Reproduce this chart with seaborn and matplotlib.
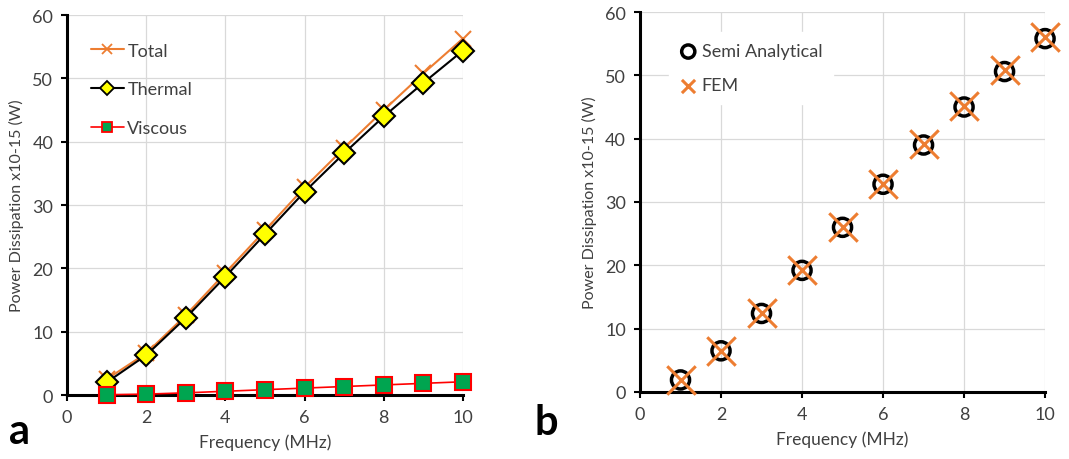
import numpy as np
import pandas as pd
import seaborn as sns
import matplotlib.pyplot as plt

# frequency (MHz)
freq = [1, 2, 3, 4, 5, 6, 7, 8, 9, 10]

# panel a: power dissipation x10^-15 (W)
total = [2.5, 6.6, 12.6, 19.3, 26.0, 32.8, 39.0, 45.0, 50.8, 56.3]
thermal = [2.0, 6.3, 12.2, 18.7, 25.4, 32.1, 38.2, 44.0, 49.3, 54.4]
viscous = [0.05, 0.15, 0.35, 0.6, 0.85, 1.1, 1.35, 1.6, 1.85, 2.1]

# panel b
semi_analytical = [1.9, 6.5, 12.4, 19.2, 26.0, 32.8, 39.0, 45.0, 50.6, 55.8]
fem = [1.9, 6.5, 12.5, 19.3, 26.1, 32.9, 39.2, 45.1, 50.8, 56.0]

sns.set_style("white")
plt.rcParams['font.family'] = ['Lato', 'DejaVu Sans']

orange = "#ED7D31"
text_col = "#404040"

fig = plt.figure(figsize=(10.69, 4.6), dpi=100)
ax1 = fig.add_axes([0.0627, 0.139, 0.3704, 0.826])
ax2 = fig.add_axes([0.5987, 0.1457, 0.3789, 0.826])

dfa = pd.DataFrame({"f": freq, "Total": total, "Thermal": thermal, "Viscous": viscous})

sns.lineplot(data=dfa, x="f", y="Total", ax=ax1, color=orange, lw=1.5,
             marker="x", markersize=12, markeredgewidth=1.5, markeredgecolor=orange,
             label="Total", zorder=3)
sns.lineplot(data=dfa, x="f", y="Thermal", ax=ax1, color="black", lw=1.5,
             marker="D", markersize=11, markerfacecolor="#FFFF00", markeredgecolor="black",
             markeredgewidth=1.5, label="Thermal", zorder=4)
sns.lineplot(data=dfa, x="f", y="Viscous", ax=ax1, color="red", lw=1.2,
             marker="s", markersize=12, markerfacecolor="#00A550", markeredgecolor="red",
             markeredgewidth=1.5, label="Viscous", zorder=5)

dfb = pd.DataFrame({"f": freq, "Semi Analytical": semi_analytical, "FEM": fem})
sns.scatterplot(data=dfb, x="f", y="Semi Analytical", ax=ax2, marker="o", s=170,
                facecolor="none", edgecolor="black", linewidth=2.5,
                label="Semi Analytical", zorder=3)
sns.scatterplot(data=dfb, x="f", y="FEM", ax=ax2, marker="x", s=420,
                color=orange, linewidth=2.2, label="FEM", zorder=4)

for ax in (ax1, ax2):
    ax.set_xlim(0, 10)
    ax.set_ylim(0, 60)
    ax.set_xticks(range(0, 11, 2))
    ax.set_yticks(range(0, 61, 10))
    ax.grid(True, color="#D9D9D9", lw=0.9)
    ax.set_axisbelow(True)
    for s in ("top", "right"):
        ax.spines[s].set_visible(False)
    for s in ("left", "bottom"):
        ax.spines[s].set_color("black")
        ax.spines[s].set_linewidth(2.2)
    ax.tick_params(axis="both", direction="out", length=4, width=1.5,
                   colors="black", labelcolor=text_col, labelsize=13, pad=6,
                   left=True, bottom=True)
    ax.set_xlabel("Frequency (MHz)", fontsize=12.5, color=text_col, labelpad=6)
    ax.set_ylabel("Power Dissipation x10-15 (W)", fontsize=11.5, color=text_col, labelpad=6)
    for c in ax.collections + ax.lines:
        c.set_clip_on(False)

leg1 = ax1.legend(loc="upper left", bbox_to_anchor=(0.02, 0.97), frameon=False,
                  fontsize=13, labelspacing=1.25, handlelength=1.8, handletextpad=0.2)
for t in leg1.get_texts():
    t.set_color(text_col)
for h in leg1.legend_handles:
    h.set_markersize(7)
    h.set_markeredgewidth(1.3)

leg2 = ax2.legend(loc="upper left", bbox_to_anchor=(0.05, 0.97), frameon=True,
                  fancybox=False, edgecolor="white", facecolor="white", framealpha=1,
                  fontsize=13, labelspacing=1.0, handlelength=0.9, handletextpad=0.3,
                  borderpad=0.6)
for t in leg2.get_texts():
    t.set_color(text_col)
for h in leg2.legend_handles:
    h.set_sizes([90])

fig.text(0.008, 0.035, "a", fontsize=30, fontweight="bold", color="black")
fig.text(0.50, 0.055, "b", fontsize=30, fontweight="bold", color="black")

plt.savefig("out.png", dpi=100)
